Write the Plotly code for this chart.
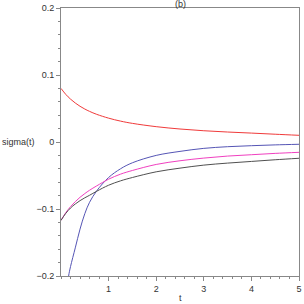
import plotly.graph_objects as go

t = [0, 0.1, 0.2, 0.3, 0.4, 0.5, 0.6, 0.75, 1.0, 1.25, 1.5, 2.0, 2.5, 3.0, 3.5, 4.0, 4.5, 5.0]

red = [0.080, 0.0711, 0.064, 0.0582, 0.0533, 0.0492, 0.0457, 0.0413, 0.0356, 0.0312, 0.0278,
       0.0229, 0.0194, 0.0168, 0.0149, 0.0133, 0.0116, 0.0100]
blue_t = [0.1, 0.16, 0.2, 0.3, 0.4, 0.5, 0.6, 0.75, 1.0, 1.25, 1.5, 2.0, 2.5, 3.0, 3.5, 4.0, 4.5, 5.0]
blue = [-0.235, -0.2, -0.186, -0.158, -0.13, -0.107, -0.09, -0.073, -0.053, -0.040, -0.031,
        -0.020, -0.014, -0.0095, -0.007, -0.0055, -0.0043, -0.0034]
magenta = [-0.117, -0.1055, -0.0965, -0.089, -0.0825, -0.077, -0.072, -0.0655, -0.0555, -0.048,
           -0.0425, -0.0335, -0.028, -0.024, -0.021, -0.019, -0.017, -0.0154]
black = [-0.117, -0.1065, -0.0985, -0.0925, -0.0875, -0.0833, -0.0795, -0.0735, -0.0645, -0.058,
         -0.053, -0.0445, -0.039, -0.0345, -0.0315, -0.029, -0.0265, -0.0243]

ytickvals = [0.2, 0.1, 0, -0.1, -0.2]
yticktext = ["0.2", "0.1", "0", "\u22120.1", "\u22120.2"]
xtickvals = [1, 2, 3, 4, 5]

fig = go.Figure()
fig.add_trace(go.Scatter(x=t, y=red, mode="lines", line=dict(color="#f03a3a", width=1, shape="spline")))
fig.add_trace(go.Scatter(x=blue_t, y=blue, mode="lines", line=dict(color="#5555b5", width=1, shape="spline")))
fig.add_trace(go.Scatter(x=t, y=magenta, mode="lines", line=dict(color="#f040c0", width=1, shape="spline")))
fig.add_trace(go.Scatter(x=t, y=black, mode="lines", line=dict(color="#505050", width=1, shape="spline")))

font = dict(family="Liberation Sans, Arial, sans-serif", size=9, color="#333333")

fig.update_layout(
    width=304, height=304,
    margin=dict(l=61, r=2, t=8, b=28),
    paper_bgcolor="white", plot_bgcolor="white",
    showlegend=False,
    font=font,
    xaxis=dict(range=[0, 5], tickvals=xtickvals, ticks="outside", ticklen=4, tickcolor="#888",
               showline=True, linecolor="#888", linewidth=1, mirror=True, showgrid=False,
               zeroline=False, tickfont=font, ticklabeloverflow="allow",
               minor=dict(dtick=0.2, tick0=0, ticks="outside", ticklen=2, tickcolor="#888")),
    yaxis=dict(range=[-0.2, 0.2], tickvals=ytickvals, ticktext=yticktext, ticks="outside",
               ticklen=4, tickcolor="#888", showline=True, linecolor="#888", linewidth=1,
               mirror=True, showgrid=False, zeroline=False, tickfont=font,
               minor=dict(dtick=0.02, tick0=0, ticks="outside", ticklen=2, tickcolor="#888")),
    annotations=[
        dict(text="(b)", x=0.5, y=1, xref="paper", yref="paper", xanchor="center", yanchor="middle",
             showarrow=False, font=font, yshift=4),
        dict(text="sigma(t)", x=0, y=0, xref="paper", yref="y", xanchor="left", yanchor="middle",
             showarrow=False, font=font, xshift=-61),
        dict(text="t", x=0.5, y=0, xref="paper", yref="paper", xanchor="center", yanchor="top",
             showarrow=False, font=font, yshift=-15),
    ],
)

fig.write_html("out.html", config={"displayModeBar": False},
               post_script="document.body.style.margin='0';document.body.style.overflow='hidden';")
